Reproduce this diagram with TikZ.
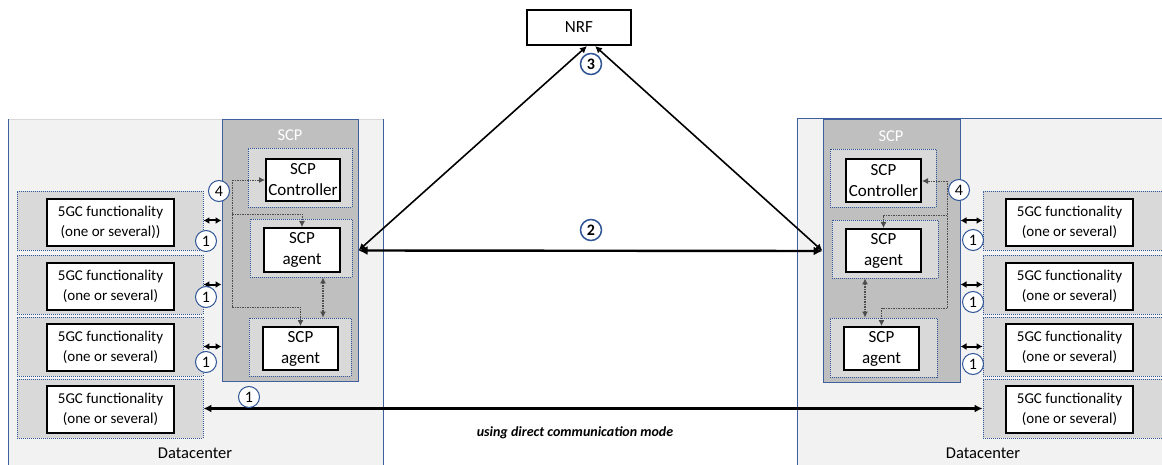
\documentclass[tikz,border=0pt]{standalone}
\usepackage{fontspec}
\setmainfont{Carlito}
\usetikzlibrary{arrows.meta,fit,calc}
\definecolor{dcfill}{HTML}{F2F2F2}
\definecolor{dcline}{HTML}{3F5F9F}
\definecolor{scpfill}{HTML}{BFBFBF}
\definecolor{boxfill}{HTML}{D9D9D9}
\definecolor{dotline}{HTML}{2F5597}
\begin{document}
\begin{tikzpicture}[x=1pt,y=-1pt,
  scpbox/.style={draw=dcline,fill=scpfill,line width=1pt,inner sep=0pt},
  holder/.style={draw=dotline,fill=boxfill,line width=0.9pt,dash pattern=on 1pt off 1pt,inner sep=0pt},
  whitebox/.style={draw=black,fill=white,line width=2pt,inner sep=0pt,align=center},
  gcbox/.style={whitebox,font=\fontsize{15}{20}\selectfont},
  scptxt/.style={whitebox,font=\fontsize{17}{21}\selectfont},
  num/.style={circle,draw=dotline,fill=white,line width=1pt,minimum size=21pt,inner sep=0pt,font=\fontsize{16}{16}\selectfont},
  dbl/.style={line width=1.6pt,{Latex[length=7pt,width=7pt]}-{Latex[length=7pt,width=7pt]}},
  sdbl/.style={line width=2pt,{Latex[length=6pt,width=7pt]}-{Latex[length=6pt,width=7pt]}},
  ctl/.style={draw=black!70,line width=0.8pt,dash pattern=on 1.5pt off 1pt},
  ctlarrow/.style={ctl,-{Latex[length=6pt,width=6pt]}},
  ctldbl/.style={ctl,line width=1.1pt,{Latex[length=6pt,width=6pt]}-{Latex[length=6pt,width=6pt]}}
]
\useasboundingbox (0,0) rectangle (1162,465);

% datacenters
\fill[dcfill] (8,119) rectangle (383,470);
\draw[boxfill,line width=0.8pt] (8,119) -- (383,119);
\draw[dcline,line width=1pt] (8,470) -- (8,119) (383,119) -- (383,470);
\fill[dcfill] (797,119) rectangle (1175,470);
\draw[dcline,line width=1pt] (797,470) -- (797,119) -- (1175,119);
\node[font=\fontsize{16.5}{16.5}\selectfont] (dcL) at (195,453) {Datacenter};
\node[font=\fontsize{16.5}{16.5}\selectfont] (dcR) at (983,453) {Datacenter};

% left 5GC holders
\node[holder,fit={(17,191) (203,250)}] (g1) {};
\node[holder,fit={(17,255) (203,314)}] (g2) {};
\node[holder,fit={(17,317) (203,376)}] (g3) {};
\node[holder,fit={(17,379) (203,438)}] (g4) {};
\node[gcbox,minimum width=127pt,minimum height=47pt] (b1) at (110.5,222.5) {5GC functionality\\(one or several))};
\node[gcbox,minimum width=127pt,minimum height=47pt] (b2) at (110.5,286.5) {5GC functionality\\(one or several)};
\node[gcbox,minimum width=127pt,minimum height=47pt] (b3) at (110.5,347.5) {5GC functionality\\(one or several)};
\node[gcbox,minimum width=127pt,minimum height=47pt] (b4) at (110.5,409.5) {5GC functionality\\(one or several)};

% right 5GC holders
\node[holder,fit={(983,191) (1175,250)}] (h1) {};
\node[holder,fit={(983,255) (1175,314)}] (h2) {};
\node[holder,fit={(983,317) (1175,376)}] (h3) {};
\node[holder,fit={(983,379) (1175,438)}] (h4) {};
\node[gcbox,minimum width=127pt,minimum height=47pt] (c1) at (1069.5,222.5) {5GC functionality\\(one or several)};
\node[gcbox,minimum width=127pt,minimum height=47pt] (c2) at (1069.5,286.5) {5GC functionality\\(one or several)};
\node[gcbox,minimum width=127pt,minimum height=47pt] (c3) at (1069.5,347.5) {5GC functionality\\(one or several)};
\node[gcbox,minimum width=127pt,minimum height=47pt] (c4) at (1069.5,409.5) {5GC functionality\\(one or several)};

% left SCP
\node[scpbox,fit={(222,120) (358,381)}] (scpL) {};
\node[text=white,font=\fontsize{16.5}{16.5}\selectfont] (scpLt) at (290,135) {SCP};
\node[holder,fit={(248,148) (352,207)}] (lcH) {};
\node[holder,fit={(250,219) (352,277)}] (la1H) {};
\node[holder,fit={(249,318) (351,376)}] (la2H) {};
\node[scptxt,fit={(266,159) (340,201)}] (lc) {};
\node[font=\fontsize{17}{21}\selectfont,align=center] at (lc) {SCP\\Controller};
\node[scptxt,fit={(264,228) (340,272)}] (la1) {};
\node[font=\fontsize{17}{21}\selectfont,align=center] at (la1) {SCP\\agent};
\node[scptxt,fit={(263,327) (338,370)}] (la2) {};
\node[font=\fontsize{17}{21}\selectfont,align=center] at (la2) {SCP\\agent};

% right SCP
\node[scpbox,fit={(823,120) (960,382)}] (scpR) {};
\node[text=white,font=\fontsize{16.5}{16.5}\selectfont] (scpRt) at (891,136) {SCP};
\node[holder,fit={(830,149) (936,207)}] (rcH) {};
\node[holder,fit={(832,220) (938,278)}] (ra1H) {};
\node[holder,fit={(830,318) (937,377)}] (ra2H) {};
\node[scptxt,fit={(846,159) (921,202)}] (rc) {};
\node[font=\fontsize{17}{21}\selectfont,align=center] at (rc) {SCP\\Controller};
\node[scptxt,fit={(846,229) (921,272)}] (ra1) {};
\node[font=\fontsize{17}{21}\selectfont,align=center] at (ra1) {SCP\\agent};
\node[scptxt,fit={(844,327) (919,370)}] (ra2) {};
\node[font=\fontsize{17}{21}\selectfont,align=center] at (ra2) {SCP\\agent};

% NRF
\node[draw=black,fill=white,line width=2pt,minimum width=104pt,minimum height=35pt,inner sep=0pt,font=\fontsize{17}{17}\selectfont] (nrf) at (579,27.5) {NRF};

% control (dotted) connectors, left
\coordinate (lt) at (232,180);
\coordinate (lm) at (232,214);
\coordinate (lb) at (232,307);
\draw[ctl] (lt) -- (lb);
\draw[ctlarrow] (lt) -- (lt -| lc.west);
\draw[ctlarrow] (lm) -| (la1.north);
\draw[ctlarrow] (lb) -| (la2.north);
\draw[ctldbl] (la1H.south -| 323,0) -- (la2H.north -| 323,0);

% control (dotted) connectors, right
\coordinate (rt) at (947,181);
\coordinate (rm) at (947,215);
\coordinate (rb) at (947,308);
\draw[ctl] (rt) -- (rb);
\draw[ctlarrow] (rt) -- (rt -| rc.east);
\draw[ctlarrow] (rm) -| (ra1.north);
\draw[ctlarrow] (rb) -| (ra2.north);
\draw[ctldbl] (ra1H.south -| 865,0) -- (ra2H.north -| 865,0);

% 5GC <-> SCP
\draw[sdbl] (g1.east) -- (g1.east -| scpL.west);
\draw[sdbl] (g2.east) -- (g2.east -| scpL.west);
\draw[sdbl] (g3.east) -- (g3.east -| scpL.west);
\draw[sdbl] (h1.west -| scpR.east) -- (h1.west);
\draw[sdbl] (h2.west -| scpR.east) -- (h2.west);
\draw[sdbl] (h3.west -| scpR.east) -- (h3.west);

% direct communication
\draw[line width=2.6pt,{Latex[length=8pt,width=8pt]}-{Latex[length=8pt,width=8pt]}] (g4.east) -- (h4.west);
\node[font=\fontsize{14}{14}\selectfont\bfseries\itshape] (dcm) at (575,433) {using direct communication mode};

% SCP <-> SCP
\draw[line width=2.4pt,{Latex[length=9pt,width=9pt]}-{Latex[length=9pt,width=9pt]}] (scpL.east) -- (scpR.west);

% NRF links
\draw[dbl] ($(nrf.south)+(8,0)$) -- (scpL.east);
\draw[dbl] ($(nrf.south)+(16,0)$) -- (scpR.west);

% numbers
\node[num] (n1a) at (206,241) {1};
\node[num] (n1b) at (206,297) {1};
\node[num] (n1c) at (206,362) {1};
\node[num] (n1d) at (249,397) {1};
\node[num] (n1e) at (973,240) {1};
\node[num] (n1f) at (973,302) {1};
\node[num] (n1g) at (973,364) {1};
\node[num,line width=1.5pt,font=\fontsize{16}{16}\selectfont\bfseries] (n2) at (591,230) {2};
\node[num,line width=1.5pt,font=\fontsize{16}{16}\selectfont\bfseries] (n3) at (591,64) {3};
\node[num] (n4l) at (219,191) {4};
\node[num] (n4r) at (959,190) {4};
\end{tikzpicture}
\end{document}
